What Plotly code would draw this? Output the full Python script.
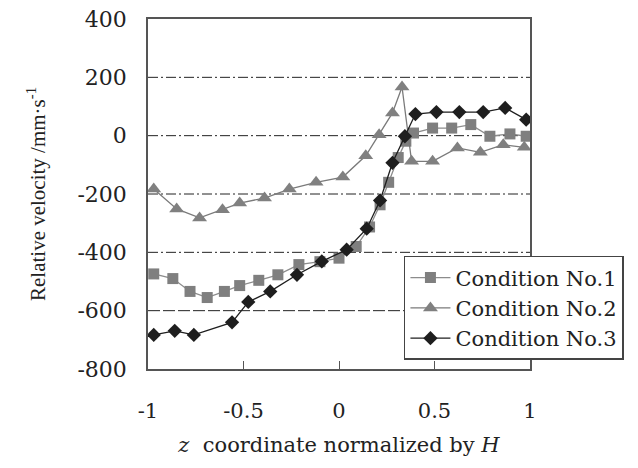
import plotly.graph_objects as go

# Data
x_c1 = [-0.97, -0.87, -0.78, -0.69, -0.60, -0.52, -0.42, -0.32, -0.21, -0.10, 0.00, 0.09,
        0.16, 0.215, 0.26, 0.31, 0.35, 0.39, 0.49, 0.59, 0.69, 0.79, 0.895, 0.98]
y_c1 = [-474, -490, -534, -555, -534, -514, -496, -477, -442, -432, -420, -380,
        -313, -237, -160, -75, -19, 9, 26, 26, 38, -2, 6, -2]

x_c2 = [-0.97, -0.85, -0.73, -0.61, -0.52, -0.39, -0.26, -0.12, 0.02, 0.14, 0.21, 0.28,
        0.33, 0.38, 0.49, 0.62, 0.74, 0.86, 0.97]
y_c2 = [-183, -251, -282, -254, -231, -214, -183, -160, -142, -69, 3, 78,
        167, -88, -88, -42, -57, -31, -40]

x_c3 = [-0.97, -0.86, -0.76, -0.56, -0.475, -0.36, -0.22, -0.09, 0.04, 0.145, 0.215, 0.28,
        0.345, 0.40, 0.51, 0.63, 0.755, 0.87, 0.98]
y_c3 = [-683, -669, -683, -640, -570, -534, -477, -431, -391, -319, -222, -93,
        -2, 74, 81, 81, 81, 95, 55]

series_names = ["Condition No.1", "Condition No.2", "Condition No.3"]

x_tickvals = [-1, -0.5, 0, 0.5, 1]
x_ticktext = ["-1", "-0.5", "0", "0.5", "1"]
y_tickvals = [400, 200, 0, -200, -400, -600, -800]
y_ticktext = ["400", "200", "0", "-200", "-400", "-600", "-800"]

# reference gridlines (values) and their dash styles
grid_vals = [200, 0, -200, -400, -600]
grid_dash = ["10px,3px,2px,3px"] * 4 + ["12px,3px"]

FONT = "DejaVu Serif"
TFONT = "Liberation Serif"
TXT = "#222222"

fig = go.Figure()
fig.add_trace(go.Scatter(
    x=x_c1, y=y_c1, name=series_names[0], mode="lines+markers",
    line=dict(color="#8c8c8c", width=1.3),
    marker=dict(symbol="square", size=11, color="#7f7f7f"),
))
fig.add_trace(go.Scatter(
    x=x_c2, y=y_c2, name=series_names[1], mode="lines+markers",
    line=dict(color="#7a7a7a", width=1.3),
    marker=dict(symbol="triangle-up", size=13, color="#808080"),
))
fig.add_trace(go.Scatter(
    x=x_c3, y=y_c3, name=series_names[2], mode="lines+markers",
    line=dict(color="#1e1e1e", width=1.3),
    marker=dict(symbol="diamond", size=11, color="#1e1e1e"),
))

for v, d in zip(grid_vals, grid_dash):
    fig.add_shape(type="line", xref="paper", x0=0, x1=1, yref="y", y0=v, y1=v,
                  line=dict(color="#222222", width=1, dash=d), layer="below")

fig.update_layout(
    width=638, height=468,
    margin=dict(l=148, r=108, t=19, b=99, autoexpand=False),
    paper_bgcolor="white", plot_bgcolor="white",
    font=dict(family=FONT, size=21, color=TXT),
    showlegend=True,
    legend=dict(
        x=0.67, y=0.323, xanchor="left", yanchor="top",
        bgcolor="white", bordercolor="#444444", borderwidth=1.5,
        font=dict(family=FONT, size=21, color=TXT),
        tracegroupgap=0, itemwidth=40,
    ),
)

fig.update_xaxes(
    range=[-1, 1], tickvals=x_tickvals, ticktext=x_ticktext,
    showgrid=False, zeroline=False,
    showline=True, linecolor="#555555", linewidth=1.5, mirror=True,
    ticks="inside", ticklen=8, tickcolor="#555555", tickwidth=1.2,
    ticklabelstandoff=22,
    tickfont=dict(family=FONT, size=21, color=TXT),
    title=dict(text="<i>z</i>  coordinate normalized by <i>H</i>",
               font=dict(family=FONT, size=21, color=TXT), standoff=15),
)
fig.update_yaxes(
    range=[-800, 400], tickvals=y_tickvals, ticktext=y_ticktext,
    showgrid=False, zeroline=False,
    showline=True, linecolor="#555555", linewidth=1.5, mirror=True,
    ticks="", ticklabelstandoff=15,
    tickfont=dict(family=FONT, size=22, color=TXT),
    title=dict(text="Relative velocity /mm·s<sup>-1</sup>",
               font=dict(family=TFONT, size=21, color=TXT), standoff=26),
)

fig.write_html("out.html")
